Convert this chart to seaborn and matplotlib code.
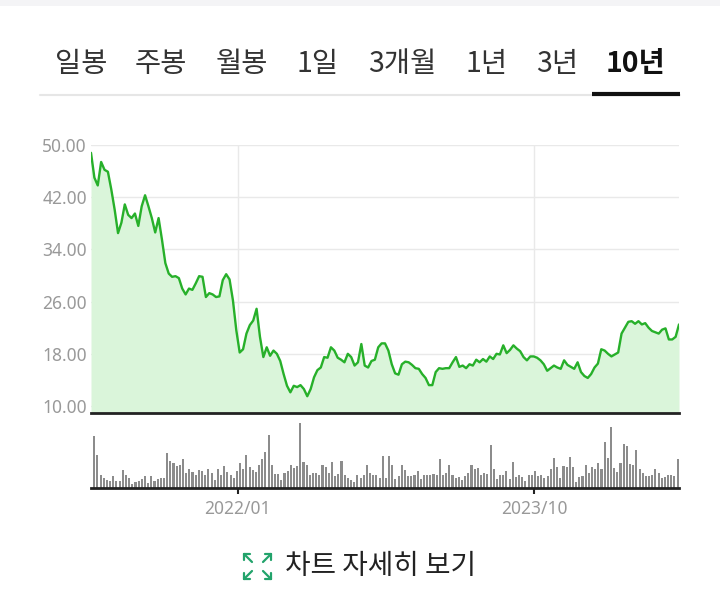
import matplotlib
matplotlib.use("Agg")
import matplotlib.pyplot as plt
import seaborn as sns
import pandas as pd
from matplotlib.lines import Line2D
from matplotlib.patches import Rectangle

# ---------------- data ----------------
tabs = ["일봉", "주봉", "월봉", "1일", "3개월", "1년", "3년", "10년"]
active_tab = "10년"

price = [48.8, 45.0, 43.8, 47.4, 46.2, 45.9, 43.2, 40.1, 36.5, 38.1,
         40.9, 39.3, 38.8, 39.5, 37.6, 40.6, 42.3, 40.6, 38.8, 36.6,
         38.8, 35.5, 31.9, 30.3, 29.8, 29.9, 29.6, 28.0, 27.1, 28.0,
         27.8, 28.8, 29.9, 29.8, 26.7, 27.3, 27.1, 26.7, 26.8, 29.3,
         30.2, 29.4, 26.2, 21.6,
         18.2, 18.7, 21.1, 22.4, 23.1, 24.9, 20.6, 17.5, 19.0, 17.7,
         18.5, 18.0, 16.9, 14.9, 13.1, 12.1, 13.1, 12.9, 13.2, 12.6,
         11.5, 12.6, 14.4, 15.5, 15.9, 17.5, 17.4, 19.0, 18.5, 17.4,
         17.1, 16.7, 18.0, 17.5, 16.2, 16.7, 19.5, 16.2, 15.9, 16.9,
         17.1, 19.0, 19.6, 19.6,
         18.5, 16.4, 15.0, 14.8, 16.4, 16.8, 16.7, 16.3, 15.8, 15.7,
         14.9, 14.3, 13.2, 13.2, 15.2, 15.8, 15.7, 15.8, 15.8, 16.7,
         17.5, 16.0, 16.2, 15.8, 16.4, 16.2, 17.1, 16.7, 17.2, 16.8,
         17.6, 17.2, 18.0, 17.9, 19.3, 18.1, 18.6, 19.3, 18.8, 18.4,
         17.5, 17.0, 17.6, 17.6, 17.4, 17.0, 16.4, 15.4, 15.8, 16.2,
         15.9, 15.7, 17.0, 16.3, 16.0, 15.7, 16.7, 15.2, 14.6, 14.3,
         14.9, 15.9, 16.5, 18.7, 18.5, 18.0, 17.6, 17.9, 18.2, 21.1,
         22.0, 22.9, 23.0, 22.6, 23.0, 22.5, 22.7, 22.0, 21.5, 21.3,
         21.1, 21.7, 21.9, 20.2, 20.2, 20.6, 22.5]

volume = [52, 33, 13, 10, 8, 7, 12, 7, 7, 18,
          13, 10, 4, 6, 7, 9, 12, 5, 12, 7,
          9, 10, 10, 35, 27, 25, 22, 23, 29, 15,
          19, 16, 13, 18, 17, 13, 19, 15, 8, 19,
          13, 22, 16, 13, 10, 17, 25, 19, 33, 21,
          18, 16, 23, 29, 36, 53, 23, 14, 14, 8,
          15, 17, 23, 20, 22, 65, 26, 23, 13, 15,
          15, 13, 23, 21, 15, 26, 12, 14, 27, 13,
          10, 8, 6, 13, 10, 13, 23, 15, 13, 13,
          10, 32,
          10, 32, 23, 9, 12, 23, 18, 12, 12, 13,
          17, 9, 13, 13, 13, 14, 13, 29, 13, 15,
          23, 13, 10, 11, 8, 12, 15, 23, 19, 20,
          13, 15, 14, 43, 19, 9, 13, 13, 17, 9,
          26, 11, 13, 11, 7, 13, 13, 17, 12, 13,
          10, 12, 19, 30, 21, 10, 22, 21, 31, 21,
          6, 11, 12, 23, 15, 21, 19, 25, 19, 46,
          30, 61, 20, 16, 25, 44, 42, 24, 23, 38,
          19, 15, 12, 12, 13, 19, 15, 10, 11, 13,
          13, 12, 29]

price_start, price_end = "2021-02-19", "2024-08-08"
vol_start, vol_end = "2021-02-26", "2024-08-05"
x_ticks = ["2022-01-01", "2023-10-01"]
x_tick_labels = ["2022/01", "2023/10"]
y_ticks = [10, 18, 26, 34, 42, 50]
link_text = "차트 자세히 보기"

# ---------------- style ----------------
sns.set_theme(style="white")
plt.rcParams["font.family"] = ["Noto Sans CJK KR", "DejaVu Sans"]

LINE = "#27b02a"
FILL = "#daf5da"
GRID = "#e9e9e9"
LABEL = "#999999"
BAR = "#8c8c8c"

W, H = 720, 616
fig = plt.figure(figsize=(W / 100, H / 100), dpi=100)
fig.patch.set_facecolor("white")


def fx(px):
    return px / W


def fy(py):
    return 1 - py / H


# top light strip
fig.patches.append(Rectangle((0, fy(6)), 1, 6 / H, transform=fig.transFigure,
                             facecolor="#f4f4f6", edgecolor="none"))

# tabs
tab_x = [81, 161, 242, 318, 402, 487, 557, 636]
for t, x in zip(tabs, tab_x):
    act = t == active_tab
    fig.text(fx(x), fy(64), t, ha="center", va="center", fontsize=20.5,
             color="#111111" if act else "#333333",
             fontweight="bold" if act else "normal")
fig.add_artist(Line2D([fx(40), fx(680)], [fy(95), fy(95)], color="#e6e6e6",
                      lw=1.5, transform=fig.transFigure))
fig.add_artist(Line2D([fx(592), fx(680)], [fy(93.5), fy(93.5)], color="#111111",
                      lw=3, transform=fig.transFigure, solid_capstyle="butt"))

# ---------------- price panel ----------------
p_dates = pd.date_range(price_start, price_end, periods=len(price))
df_p = pd.DataFrame({"date": p_dates, "price": price})

ax = fig.add_axes([fx(91), fy(413), fx(679) - fx(91), fy(145) - fy(413)])
ax.set_facecolor("white")
ax.fill_between(df_p["date"], df_p["price"], 0, color=FILL, lw=0, zorder=1)
sns.lineplot(data=df_p, x="date", y="price", ax=ax, color=LINE, lw=1.7, zorder=3)
ax.set_xlim(pd.Timestamp(price_start), pd.Timestamp(price_end))
ax.set_ylim(8.93, 50)
ax.set_yticks(y_ticks)
ax.set_yticklabels([f"{v:.2f}" for v in y_ticks], color=LABEL, fontsize=12.5,
                   family=["Noto Sans", "DejaVu Sans"])
ax.set_xticks(pd.to_datetime(x_ticks))
ax.set_xticklabels([])
ax.tick_params(axis="both", length=0, pad=3)
ax.grid(True, axis="both", color=GRID, lw=1, zorder=0)
ax.set_axisbelow(True)
ax.set_xlabel("")
ax.set_ylabel("")
for s in ["top", "left", "right"]:
    ax.spines[s].set_visible(False)
ax.spines["bottom"].set_color("#222222")
ax.spines["bottom"].set_linewidth(2)
ax.spines["bottom"].set_zorder(5)

# ---------------- volume panel ----------------
v_dates = pd.date_range(vol_start, vol_end, periods=len(volume))
axv = fig.add_axes([fx(91), fy(488), fx(679) - fx(91), fy(422) - fy(488)])
axv.bar(v_dates, volume, width=4.5, color=BAR, lw=0, align="center")
axv.set_xlim(pd.Timestamp(price_start), pd.Timestamp(price_end))
axv.set_ylim(0, 66)
axv.set_yticks([])
axv.set_xticks(pd.to_datetime(x_ticks))
axv.set_xticklabels(x_tick_labels, color=LABEL, fontsize=12.5,
                    family=["Noto Sans", "DejaVu Sans"])
axv.tick_params(axis="x", length=4, width=1.5, color="#222222", pad=5,
                direction="out", bottom=True)
axv.set_facecolor("white")
axv.grid(False)
for s in ["top", "left", "right"]:
    axv.spines[s].set_visible(False)
axv.spines["bottom"].set_color("#222222")
axv.spines["bottom"].set_linewidth(2)

# ---------------- bottom link ----------------
ICON = "#22a36b"
x0, x1, y0, y1 = 244, 271, 554, 579
d = 6      # arrowhead length
g = 8      # diagonal length
corners = [(x0, y0, 1, 1), (x1, y0, -1, 1), (x0, y1, 1, -1), (x1, y1, -1, -1)]
for cx, cy, sx, sy in corners:
    for xs, ys in [([cx, cx + sx * d], [cy, cy]),
                   ([cx, cx], [cy, cy + sy * d]),
                   ([cx, cx + sx * g], [cy, cy + sy * g])]:
        fig.add_artist(Line2D([fx(v) for v in xs], [fy(v) for v in ys],
                              color=ICON, lw=1.6, transform=fig.transFigure,
                              solid_capstyle="round"))
fig.text(fx(285), fy(566), link_text, ha="left", va="center", fontsize=20,
         color="#222222")

fig.savefig("out.png", dpi=100, facecolor="white")
